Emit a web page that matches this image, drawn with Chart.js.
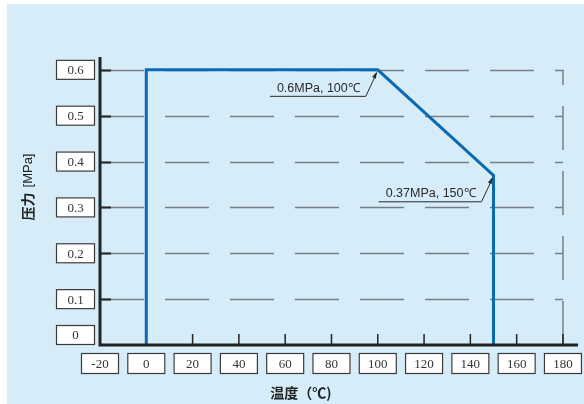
<!DOCTYPE html>
<html>
<head>
<meta charset="utf-8">
<script src="https://cdn.jsdelivr.net/npm/chart.js@4"></script>
<style>
  body { margin: 0; background: #fff; }
  #wrap { width: 584px; height: 404px; }
</style>
</head>
<body>
<div id="wrap"><canvas id="myChart" width="584" height="404"></canvas></div>
<script>
const ctx = document.getElementById('myChart');

// pressure / temperature limit curve
const temps = [0, 0, 100, 150, 150];
const pressures = [0, 0.6, 0.6, 0.37, 0];

const xTicks = [-20, 0, 20, 40, 60, 80, 100, 120, 140, 160, 180];
const yTicks = [0, 0.1, 0.2, 0.3, 0.4, 0.5, 0.6];
const yLabels = ['0', '0.1', '0.2', '0.3', '0.4', '0.5', '0.6'];

const notes = [
  { x: 100, y: 0.6, text: '0.6MPa, 100℃' },
  { x: 150, y: 0.37, text: '0.37MPa, 150℃' }
];

const xTitle = '温度（℃)';
const yTitleMain = '压力';
const yTitleUnit = '[MPa]';

const points = temps.map((t, i) => ({ x: t, y: pressures[i] }));

const box = (c, cx, cy, w, h, label) => {
  c.fillStyle = '#ffffff';
  c.fillRect(cx - w / 2, cy - h / 2, w, h);
  c.strokeStyle = '#3a3a3a';
  c.lineWidth = 1.2;
  c.strokeRect(cx - w / 2 + 0.5, cy - h / 2 + 0.5, w - 1, h - 1);
  c.fillStyle = '#333333';
  c.font = '13px "Liberation Serif", serif';
  c.textAlign = 'center';
  c.textBaseline = 'middle';
  c.fillText(label, cx, cy + 1);
};

const decor = {
  id: 'decor',
  beforeDraw(chart) {
    const c = chart.ctx;
    const xs = chart.scales.x, ys = chart.scales.y;
    c.save();
    c.fillStyle = '#d6edf9';
    c.fillRect(7, 4, 577, 400);

    // dashed grid
    const xEnd = xs.getPixelForValue(180);
    const left = xs.getPixelForValue(-20);
    const bottom = ys.getPixelForValue(0);
    c.strokeStyle = '#76808787';
    c.strokeStyle = '#767f86';
    c.lineWidth = 1.5;
    c.setLineDash([44, 21]);
    yTicks.slice(1).forEach(v => {
      const y = Math.round(ys.getPixelForValue(v)) + 0.5;
      c.beginPath();
      c.moveTo(left, y);
      c.lineTo(xEnd, y);
      c.stroke();
    });
    c.beginPath();
    c.moveTo(xEnd, bottom);
    c.lineTo(xEnd, ys.getPixelForValue(0.6));
    c.stroke();
    c.setLineDash([]);
    c.restore();
  },
  afterDraw(chart) {
    const c = chart.ctx;
    const xs = chart.scales.x, ys = chart.scales.y;
    const area = chart.chartArea;
    const left = xs.getPixelForValue(-20);
    const bottom = ys.getPixelForValue(0);
    c.save();

    // tick marks
    c.strokeStyle = '#222';
    c.lineWidth = 2;
    yTicks.slice(1).forEach(v => {
      const y = Math.round(ys.getPixelForValue(v)) + 0.5;
      c.beginPath();
      c.moveTo(left, y);
      c.lineTo(left + 11, y);
      c.stroke();
    });
    c.lineWidth = 1.5;
    xTicks.slice(2).forEach(v => {
      const x = xs.getPixelForValue(v);
      c.beginPath();
      c.moveTo(x, bottom);
      c.lineTo(x, bottom - 11);
      c.stroke();
    });

    // axes
    c.lineWidth = 3;
    c.beginPath();
    c.moveTo(left, area.top);
    c.lineTo(left, bottom);
    c.lineTo(area.right, bottom);
    c.stroke();

    // labels in boxes
    yTicks.forEach((v, i) => {
      let y = ys.getPixelForValue(v);
      if (v === 0) y -= 10;
      box(c, 75.5, y, 39, 20, yLabels[i]);
    });
    xTicks.forEach(v => {
      box(c, xs.getPixelForValue(v), 363.5, 38, 21, String(v));
    });

    // notes with arrows
    c.font = '12.5px "Liberation Sans", Arial, sans-serif';
    c.textAlign = 'right';
    c.textBaseline = 'alphabetic';
    notes.forEach(n => {
      const px = xs.getPixelForValue(n.x);
      const py = ys.getPixelForValue(n.y);
      const ex = px - 12, ey = py + 26;
      const w = c.measureText(n.text).width;
      c.fillStyle = '#2a2a2a';
      c.fillText(n.text, ex - 6, ey - 4);
      c.strokeStyle = '#2a2a2a';
      c.lineWidth = 1;
      c.beginPath();
      c.moveTo(ex - w - 13, ey + 0.5);
      c.lineTo(ex, ey + 0.5);
      c.lineTo(px - 1, py + 3);
      c.stroke();
      // arrow head
      const ang = Math.atan2(py + 2 - ey, px - 1 - ex);
      c.beginPath();
      c.moveTo(px - 1, py + 2);
      c.lineTo(px - 1 - 7 * Math.cos(ang - 0.3), py + 2 - 7 * Math.sin(ang - 0.3));
      c.lineTo(px - 1 - 7 * Math.cos(ang + 0.3), py + 2 - 7 * Math.sin(ang + 0.3));
      c.closePath();
      c.fill();
    });

    // axis titles
    c.fillStyle = '#222';
    c.textAlign = 'center';
    c.textBaseline = 'middle';
    c.font = 'bold 14px "Noto Sans CJK SC", sans-serif';
    c.fillText(xTitle, 301, 393);
    c.translate(28, 187);
    c.rotate(-Math.PI / 2);
    const mainW = c.measureText(yTitleMain).width;
    c.font = '13px "Liberation Sans", Arial, sans-serif';
    const unitW = c.measureText(yTitleUnit).width;
    const startX = -(mainW + 5 + unitW) / 2;
    c.textAlign = 'left';
    c.fillText(yTitleUnit, startX + mainW + 5, 0);
    c.font = 'bold 14px "Noto Sans CJK SC", sans-serif';
    c.fillText(yTitleMain, startX, 0);
    c.restore();
  }
};

new Chart(ctx, {
  type: 'line',
  data: {
    datasets: [{
      label: '压力',
      data: points,
      borderColor: '#0b6ab4',
      borderWidth: 3,
      pointRadius: 0,
      tension: 0,
      fill: false
    }]
  },
  options: {
    responsive: false,
    animation: false,
    layout: { padding: { left: 100, right: 6, top: 57, bottom: 59 } },
    plugins: { legend: { display: false }, tooltip: { enabled: false } },
    scales: {
      x: { type: 'linear', min: -20, max: 186.5, display: false },
      y: { type: 'linear', min: 0, max: 0.628, display: false }
    }
  },
  plugins: [decor]
});
</script>
</body>
</html>
